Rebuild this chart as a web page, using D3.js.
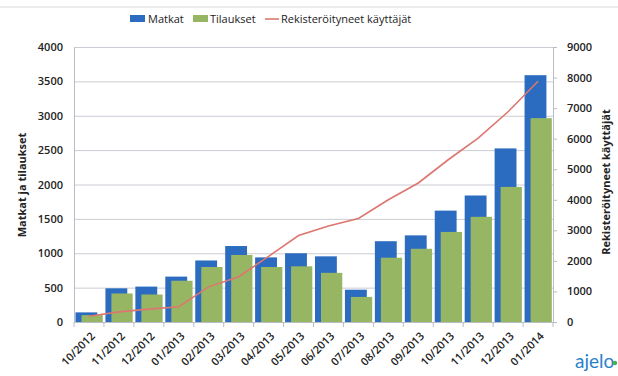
<!DOCTYPE html>
<html>
<head>
<meta charset="utf-8">
<script src="https://cdn.jsdelivr.net/npm/d3@7"></script>
<style>
  body { margin: 0; background: #fff; }
  svg { display: block; font-family: "Open Sans", "DejaVu Sans", sans-serif; }
</style>
</head>
<body>
<svg width="618" height="376"></svg>
<script>
// data
const months = ["10/2012", "11/2012", "12/2012", "01/2013", "02/2013", "03/2013", "04/2013", "05/2013",
  "06/2013", "07/2013", "08/2013", "09/2013", "10/2013", "11/2013", "12/2013", "01/2014"];
const matkat = [140, 490, 515, 660, 895, 1105, 940, 1000, 955, 470, 1175, 1260, 1620, 1840, 2525, 3590];
const tilaukset = [100, 415, 400, 600, 800, 975, 800, 810, 715, 365, 935, 1065, 1310, 1530, 1965, 2965];
const kayttajat = [190, 330, 420, 500, 1150, 1480, 2150, 2830, 3140, 3390, 4000, 4550, 5310, 6020, 6880, 7880];
const leftTicks = [0, 500, 1000, 1500, 2000, 2500, 3000, 3500, 4000];
const rightTicks = [0, 1000, 2000, 3000, 4000, 5000, 6000, 7000, 8000, 9000];

const svg = d3.select("svg");
const plotL = 74, plotR = 553, plotT = 47, plotB = 322;

let x = d3.scaleBand().domain(months).range([plotL, plotR]);
let yL = d3.scaleLinear().domain([0, 4000]).range([plotB, plotT]);
let yR = d3.scaleLinear().domain([0, 9000]).range([plotB, plotT]);

// faint frame line at the top
svg.append("line").attr("x1", 0).attr("x2", 618).attr("y1", 7).attr("y2", 7)
  .attr("stroke", "#d8d8d8").attr("stroke-width", 1);

// gridlines
svg.append("g").selectAll("line").data(leftTicks.slice(1)).enter().append("line")
  .attr("x1", plotL).attr("x2", plotR)
  .attr("y1", d => yL(d) + 0.5).attr("y2", d => yL(d) + 0.5)
  .attr("stroke", "#c9ccd2").attr("stroke-width", 1);

const bw = x.bandwidth();
// Matkat (behind)
svg.append("g").selectAll("rect").data(matkat).enter().append("rect")
  .attr("x", (d, i) => x(months[i]) + 1.5)
  .attr("width", bw * 0.73)
  .attr("y", d => yL(d))
  .attr("height", d => plotB - yL(d))
  .attr("fill", "#2b6cc0");
// Tilaukset (front, shifted right)
svg.append("g").selectAll("rect").data(tilaukset).enter().append("rect")
  .attr("x", (d, i) => x(months[i]) + 7.5)
  .attr("width", bw * 0.71)
  .attr("y", d => yL(d))
  .attr("height", d => plotB - yL(d))
  .attr("fill", "#97b664");

// registered users line
let line = d3.line()
  .x((d, i) => x(months[i]) + bw / 2)
  .y(d => yR(d));
svg.append("path").datum(kayttajat)
  .attr("d", line)
  .attr("fill", "none")
  .attr("stroke", "#dd7670")
  .attr("stroke-width", 1.6);

// axes
let axL = svg.append("g").attr("transform", "translate(" + plotL + ",0)")
  .call(d3.axisLeft(yL).tickValues(leftTicks).tickFormat(d3.format("d")).tickSize(0).tickPadding(11));
let axR = svg.append("g").attr("transform", "translate(" + plotR + ",0)")
  .call(d3.axisRight(yR).tickValues(rightTicks).tickFormat(d3.format("d")).tickSize(4).tickPadding(10));
let axB = svg.append("g").attr("transform", "translate(0," + plotB + ")")
  .call(d3.axisBottom(x).tickSize(0));

[axL, axR, axB].forEach(function (g) {
  g.selectAll(".domain").attr("stroke", "#b8bcc4");
  g.selectAll(".tick line").attr("stroke", "#b8bcc4");
  g.selectAll("text").attr("fill", "#222").attr("font-size", 11).attr("font-weight", 600)
    .attr("font-family", "Open Sans, sans-serif");
});

// category boundary tick marks
svg.append("g").selectAll("line").data(months.concat(["end"])).enter().append("line")
  .attr("x1", (d, i) => plotL + i * bw).attr("x2", (d, i) => plotL + i * bw)
  .attr("y1", plotB).attr("y2", plotB + 5)
  .attr("stroke", "#b8bcc4");

axB.selectAll("text")
  .attr("text-anchor", "end")
  .attr("y", 0)
  .attr("dy", "0.35em")
  .attr("transform", "translate(4,12) rotate(-45)");

// axis titles
svg.append("text")
  .attr("transform", "translate(26,185) rotate(-90)")
  .attr("text-anchor", "middle")
  .attr("font-size", 11).attr("font-weight", 700).attr("fill", "#222")
  .text("Matkat ja tilaukset");
svg.append("text")
  .attr("transform", "translate(610,182) rotate(-90)")
  .attr("text-anchor", "middle")
  .attr("font-size", 11).attr("font-weight", 700).attr("fill", "#222")
  .text("Rekisteröityneet käyttäjät");

// legend
let legend = svg.append("g").attr("font-size", 11).attr("fill", "#222");
legend.append("rect").attr("x", 130).attr("y", 15).attr("width", 15).attr("height", 7).attr("fill", "#2b6cc0");
legend.append("text").attr("x", 148).attr("y", 23).text("Matkat");
legend.append("rect").attr("x", 193).attr("y", 15).attr("width", 15).attr("height", 7).attr("fill", "#97b664");
legend.append("text").attr("x", 210).attr("y", 23).text("Tilaukset");
legend.append("line").attr("x1", 265).attr("x2", 279).attr("y1", 19).attr("y2", 19)
  .attr("stroke", "#dd7670").attr("stroke-width", 1.6);
legend.append("text").attr("x", 281).attr("y", 23).text("Rekisteröityneet käyttäjät");

// logo
svg.append("text").attr("x", 575).attr("y", 368)
  .attr("font-size", 19).attr("fill", "#2a7fc9").attr("font-family", "Lato, sans-serif")
  .text("ajelo");
svg.append("circle").attr("cx", 615).attr("cy", 363).attr("r", 2.2).attr("fill", "#4cae4c");
</script>
</body>
</html>
